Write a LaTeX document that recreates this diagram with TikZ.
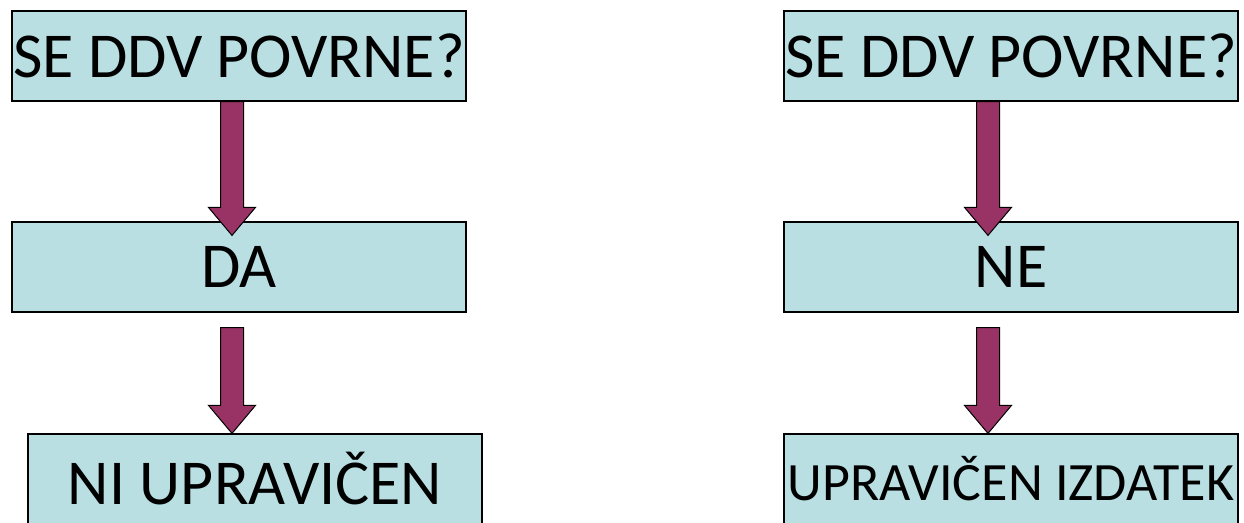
\documentclass[tikz,border=0pt]{standalone}
\usepackage{fontspec}
\setmainfont{Carlito}
\usetikzlibrary{positioning}

\definecolor{boxfill}{HTML}{B9DFE3}
\definecolor{arrowfill}{HTML}{993366}

% block arrow pointing down: #1 = start of shaft, #2 = tip
\newcommand{\blockarr}[2]{%
	\draw[block arrow] ([xshift=-11.5pt]#1) -- ([xshift=11.5pt]#1)
		-- ([xshift=11.5pt,yshift=28pt]#2) -- ([xshift=23.5pt,yshift=28pt]#2)
		-- (#2) -- ([xshift=-23.5pt,yshift=28pt]#2)
		-- ([xshift=-11.5pt,yshift=28pt]#2) -- cycle;}

\begin{document}
\begin{tikzpicture}[x=1pt,y=1pt,
		main node/.style={rectangle,draw=black,line width=1.2pt,fill=boxfill,
			minimum width=454pt,minimum height=90pt,inner sep=0pt,
			font=\fontsize{64}{70}\selectfont},
		block arrow/.style={draw=black,line width=1pt,fill=arrowfill,line join=miter}]
	\useasboundingbox (0,0) rectangle (1244,522);
	%
	% Left column.
	\node[main node] (q1) at (239,466) {SE DDV POVRNE?};
	\node[main node] (a1) at (239,255) {DA};
	\node[main node] (r1) at (255,43) {NI UPRAVIČEN};
	%
	% Right column.
	\node[main node] (q2) at (1011,466) {SE DDV POVRNE?};
	\node[main node] (a2) at (1011,255) {NE};
	\node[main node,font=\fontsize{54}{60}\selectfont] (r2) at (1011,43) {UPRAVIČEN IZDATEK};
	%
	% Arrows between the boxes.
	\coordinate (s1) at ([xshift=-7pt]q1.south);
	\coordinate (t1) at ([xshift=-7pt,yshift=-14pt]a1.north);
	\coordinate (s2) at ([xshift=-7pt,yshift=-15pt]a1.south);
	\coordinate (t2) at ([xshift=-23pt]r1.north);
	\blockarr{s1}{t1}
	\blockarr{s2}{t2}
	%
	\coordinate (s3) at ([xshift=-23pt]q2.south);
	\coordinate (t3) at ([xshift=-23pt,yshift=-14pt]a2.north);
	\coordinate (s4) at ([xshift=-23pt,yshift=-15pt]a2.south);
	\coordinate (t4) at ([xshift=-23pt]r2.north);
	\blockarr{s3}{t3}
	\blockarr{s4}{t4}
\end{tikzpicture}
\end{document}
